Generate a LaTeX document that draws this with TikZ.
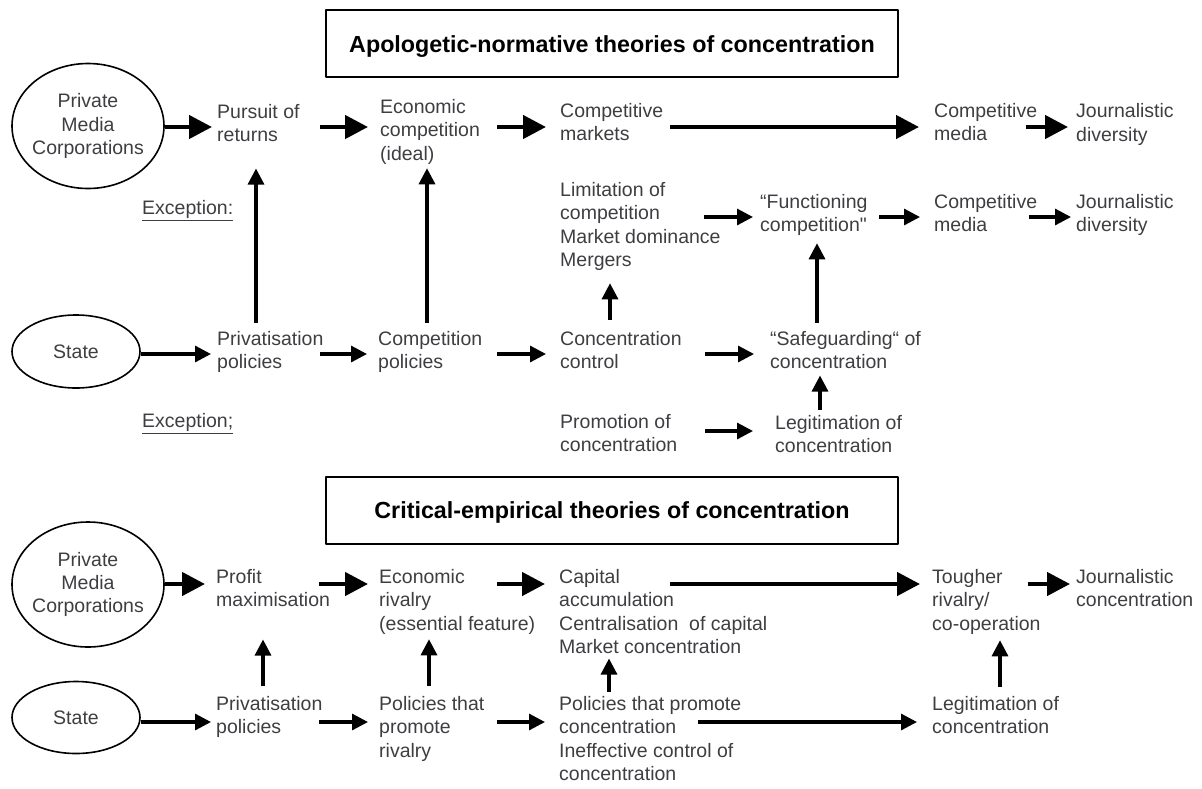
\documentclass[tikz,border=0pt]{standalone}
\usepackage{fontspec}
\setmainfont{Liberation Sans}[Ligatures=TeXOff]
\usetikzlibrary{arrows.meta,shapes.geometric}
\definecolor{txtgray}{RGB}{62,62,66}
\begin{document}
\begin{tikzpicture}[x=1pt,y=-1pt, line join=round]
	\tikzset{txt/.style={anchor=north west, inner sep=0pt, align=left, text=txtgray, font=\fontsize{19.5}{23.4}\selectfont},
		actor/.style={ellipse, draw, line width=1.6pt, inner sep=0pt, align=center, text=txtgray, font=\fontsize{19.5}{23.4}\selectfont},
		titlebox/.style={draw, line width=2pt, minimum width=572pt, minimum height=67pt, text height=17pt, text depth=0pt, font=\fontsize{23.3}{28}\selectfont\bfseries},
		thk/.style={line width=4.5pt, -{Triangle[length=23pt,width=23pt]}},
		thn/.style={line width=3.2pt, -{Triangle[length=16pt,width=16pt]}}}
	\useasboundingbox (0,0) rectangle (1202,788);
	\coordinate (rA) at (0,127); \coordinate (rB) at (0,217);
	\coordinate (rC) at (0,354); \coordinate (rD) at (0,431);
	\coordinate (rE) at (0,584); \coordinate (rF) at (0,722);
	% apologetic-normative
	\node[titlebox] (titleA) at (612,43.5) {Apologetic-normative theories of concentration};
	\node[actor, inner xsep=-3.3pt, minimum width=152pt, minimum height=125pt] (pmcA) at (88,126) {Private\\Media\\Corporations};
	\node[actor, minimum width=128pt, minimum height=73pt] (stateA) at (76,351.5) {State};
	\node[txt] (pursuit) at (217,104) {Pursuit of\\returns};
	\node[txt] (econA) at (380,99) {Economic\\competition\\(ideal)};
	\node[txt] (markets) at (560,103) {Competitive\\markets};
	\node[txt] (mediaA) at (934,103) {Competitive\\media};
	\node[txt] (divA) at (1076,103.5) {Journalistic\\diversity};
	\node[txt] (excA) at (142,200) {\underline{Exception:}};
	\node[txt] (limit) at (560,182) {Limitation of\\competition\\Market dominance\\Mergers};
	\node[txt] (funct) at (760,194) {“Functioning\\competition"};
	\node[txt] (mediaB) at (934,194) {Competitive\\media};
	\node[txt] (divB) at (1076,194) {Journalistic\\diversity};
	\node[txt] (privA) at (217,331) {Privatisation\\policies};
	\node[txt] (compol) at (378,331) {Competition\\policies};
	\node[txt] (conctrl) at (560,331) {Concentration\\control};
	\node[txt] (safe) at (770,331) {“Safeguarding“ of\\concentration};
	\node[txt] (excB) at (142,413.5) {\underline{Exception;}};
	\node[txt] (promo) at (560,414) {Promotion of\\concentration};
	\node[txt] (legitA) at (775,415) {Legitimation of\\concentration};
	\draw[thk, shorten >=5pt] (pmcA.east |- rA) -- (pursuit.west |- rA);
	\draw[thk, shorten <=103pt, shorten >=12pt] (pursuit.west |- rA) -- (econA.west |- rA);
	\draw[thk, shorten <=117pt, shorten >=14pt] (econA.west |- rA) -- (markets.west |- rA);
	\draw[thk, shorten <=110pt, shorten >=15pt] (markets.west |- rA) -- (mediaA.west |- rA);
	\draw[thk, shorten <=92pt, shorten >=8pt] (mediaA.west |- rA) -- (divA.west |- rA);
	\draw[thn, shorten <=144pt, shorten >=7pt] (limit.west |- rB) -- (funct.west |- rB);
	\draw[thn, shorten <=119pt, shorten >=14pt] (funct.west |- rB) -- (mediaB.west |- rB);
	\draw[thn, shorten <=95pt, shorten >=5pt] (mediaB.west |- rB) -- (divB.west |- rB);
	\draw[thn, shorten >=6pt] (stateA.east |- rC) -- (privA.west |- rC);
	\draw[thn, shorten <=103pt, shorten >=11pt] (privA.west |- rC) -- (compol.west |- rC);
	\draw[thn, shorten <=119pt, shorten >=14pt] (compol.west |- rC) -- (conctrl.west |- rC);
	\draw[thn, shorten <=145pt, shorten >=16pt] (conctrl.west |- rC) -- (safe.west |- rC);
	\draw[thn, shorten <=145pt, shorten >=22pt] (promo.west |- rD) -- (legitA.west |- rD);
	\draw[thn, shorten <=8pt, shorten >=26.4pt] ([xshift=39pt]privA.north west) -- ([xshift=39pt]pursuit.south west);
	\draw[thn, shorten <=8pt, shorten >=3.9pt] ([xshift=49pt]compol.north west) -- ([xshift=47pt]econA.south west);
	\draw[thn, shorten <=11pt, shorten >=12.5pt] ([xshift=50pt]conctrl.north west) -- ([xshift=50pt]limit.south west);
	\draw[thn, shorten <=8pt, shorten >=7.3pt] ([xshift=47pt]safe.north west) -- ([xshift=57pt]funct.south west);
	\draw[thn, shorten <=5pt, shorten >=6.4pt] ([xshift=45pt]legitA.north west) -- ([xshift=50pt]safe.south west);
	% critical-empirical
	\node[titlebox] (titleB) at (612,510) {Critical-empirical theories of concentration};
	\node[actor, inner xsep=-3.3pt, minimum width=152pt, minimum height=125pt] (pmcB) at (88,584.5) {Private\\Media\\Corporations};
	\node[actor, minimum width=128pt, minimum height=72pt] (stateB) at (76,717.5) {State};
	\node[txt] (profit) at (216,569) {Profit\\maximisation};
	\node[txt] (rivalry) at (379,569) {Economic\\rivalry\\(essential feature)};
	\node[txt] (capital) at (559,569) {Capital\\accumulation\\Centralisation~ of capital\\Market concentration};
	\node[txt] (tougher) at (932,569) {Tougher\\rivalry/\\co-operation};
	\node[txt] (concB) at (1076,569) {Journalistic\\concentration};
	\node[txt] (privB) at (216,696) {Privatisation\\policies};
	\node[txt] (polriv) at (379,696) {Policies that\\promote\\rivalry};
	\node[txt] (polconc) at (559,696) {Policies that promote\\concentration\\Ineffective control of\\concentration};
	\node[txt] (legitB) at (932,696) {Legitimation of\\concentration};
	\draw[thk, shorten >=11pt] (pmcB.east |- rE) -- (profit.west |- rE);
	\draw[thk, shorten <=103pt, shorten >=11pt] (profit.west |- rE) -- (rivalry.west |- rE);
	\draw[thk, shorten <=118pt, shorten >=14pt] (rivalry.west |- rE) -- (capital.west |- rE);
	\draw[thk, shorten <=111pt, shorten >=12pt] (capital.west |- rE) -- (tougher.west |- rE);
	\draw[thk, shorten <=96pt, shorten >=6pt] (tougher.west |- rE) -- (concB.west |- rE);
	\draw[thn, shorten >=5pt] (stateB.east |- rF) -- (privB.west |- rF);
	\draw[thn, shorten <=103pt, shorten >=11pt] (privB.west |- rF) -- (polriv.west |- rF);
	\draw[thn, shorten <=118pt, shorten >=14pt] (polriv.west |- rF) -- (polconc.west |- rF);
	\draw[thn, shorten <=139pt, shorten >=15pt] (polconc.west |- rF) -- (legitB.west |- rF);
	\draw[thn, shorten <=10pt, shorten >=32.4pt] ([xshift=47pt]privB.north west) -- ([xshift=47pt]profit.south west);
	\draw[thn, shorten <=10pt, shorten >=4.9pt] ([xshift=50pt]polriv.north west) -- ([xshift=50pt]rivalry.south west);
	\draw[thn, shorten <=4pt, shorten >=4.6pt] ([xshift=50pt]polconc.north west) -- ([xshift=50pt]capital.south west);
	\draw[thn, shorten <=9pt, shorten >=5.9pt] ([xshift=68pt]legitB.north west) -- ([xshift=68pt]tougher.south west);
\end{tikzpicture}
\end{document}
